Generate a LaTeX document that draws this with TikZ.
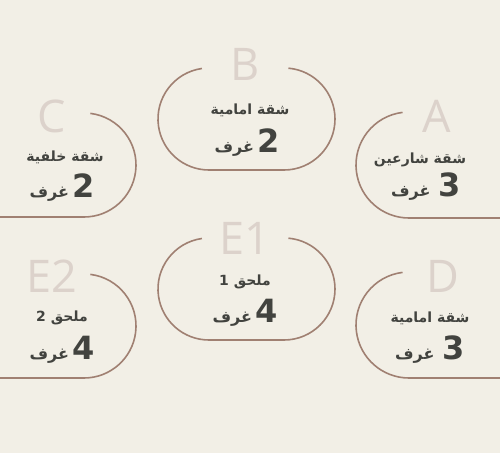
\documentclass[tikz,border=0pt]{standalone}
\usepackage{fontspec}
\setmainfont{DejaVu Sans}
\newfontfamily\arabicfont[Script=Arabic]{DejaVu Sans}
\newfontfamily\letterfont{Open Sans}
\TeXXeTstate=1
\definecolor{paper}{HTML}{F2EFE6}
\definecolor{roomline}{HTML}{A08072}
\definecolor{lettergray}{HTML}{DCD2CB}
\definecolor{inkgray}{HTML}{42433F}
\tikzset{
  roomedge/.style={draw=roomline, line width=1.6pt},
  bigletter/.style={text=lettergray, font=\letterfont\fontsize{45}{45}\selectfont, inner sep=0pt},
  aptname/.style={text=inkgray, font=\arabicfont\bfseries\fontsize{14}{16}\selectfont, inner sep=0pt},
  roomcount/.style={text=inkgray, font=\arabicfont\bfseries\fontsize{16}{20}\selectfont, inner sep=0pt},
}
\newcommand{\bignum}[1]{{\fontsize{32}{32}\selectfont #1}}

\begin{document}
\begin{tikzpicture}[x=1pt,y=1pt]
				\fill[paper] (0,0) rectangle (500,453);
				\useasboundingbox (0,0) rectangle (500,453);

				% top row
				\draw[roomedge] ([shift={(98:51)}]209,334) arc[start angle=98,end angle=270,radius=51] -- (284,283) arc[start angle=-90,end angle=85,radius=51];
				\draw[roomedge] ([shift={(97:53)}]409,288) arc[start angle=97,end angle=270,radius=53] -- (500,235);
				\draw[roomedge] ([shift={(83:52)}]84,288) arc[start angle=83,end angle=-90,radius=52] -- (0,236);

				\node[bigletter] (letterB) at (245,389) {B};
				\node[bigletter] (letterA) at (437,337) {A};
				\node[bigletter] (letterC) at (52,337) {C};

				\node[aptname] (nameB) at (250,343) {\beginR شقة امامية\endR};
				\node[roomcount] (countB) at (247,310) {\beginR غرف\endR\kern3pt\bignum{2}};
				\node[aptname] (nameA) at (420,293) {\beginR شقة شارعين\endR};
				\node[roomcount] (countA) at (426,266) {\beginR غرف\endR\enspace\bignum{3}};
				\node[aptname] (nameC) at (65,296) {\beginR شقة خلفية\endR};
				\node[roomcount] (countC) at (62,265) {\beginR غرف\endR\kern3pt\bignum{2}};

				% bottom row
				\draw[roomedge] ([shift={(98:51)}]209,164) arc[start angle=98,end angle=270,radius=51] -- (284,113) arc[start angle=-90,end angle=85,radius=51];
				\draw[roomedge] ([shift={(97:53)}]409,128) arc[start angle=97,end angle=270,radius=53] -- (500,75);
				\draw[roomedge] ([shift={(83:52)}]84,127) arc[start angle=83,end angle=-90,radius=52] -- (0,75);

				\node[bigletter] (letterE1) at (245,215) {E1};
				\node[bigletter] (letterD) at (443,177) {D};
				\node[bigletter] (letterE2) at (52,177) {E2};

				\node[aptname] (nameE1) at (245,171) {1\ \beginR ملحق\endR};
				\node[roomcount] (countE1) at (245,140) {\beginR غرف\endR\kern3pt\bignum{4}};
				\node[aptname] (nameD) at (430,135) {\beginR شقة امامية\endR};
				\node[roomcount] (countD) at (430,103) {\beginR غرف\endR\enspace\bignum{3}};
				\node[aptname] (nameE2) at (62,135) {2\ \beginR ملحق\endR};
				\node[roomcount] (countE2) at (62,103) {\beginR غرف\endR\kern3pt\bignum{4}};
			\end{tikzpicture}
\end{document}
